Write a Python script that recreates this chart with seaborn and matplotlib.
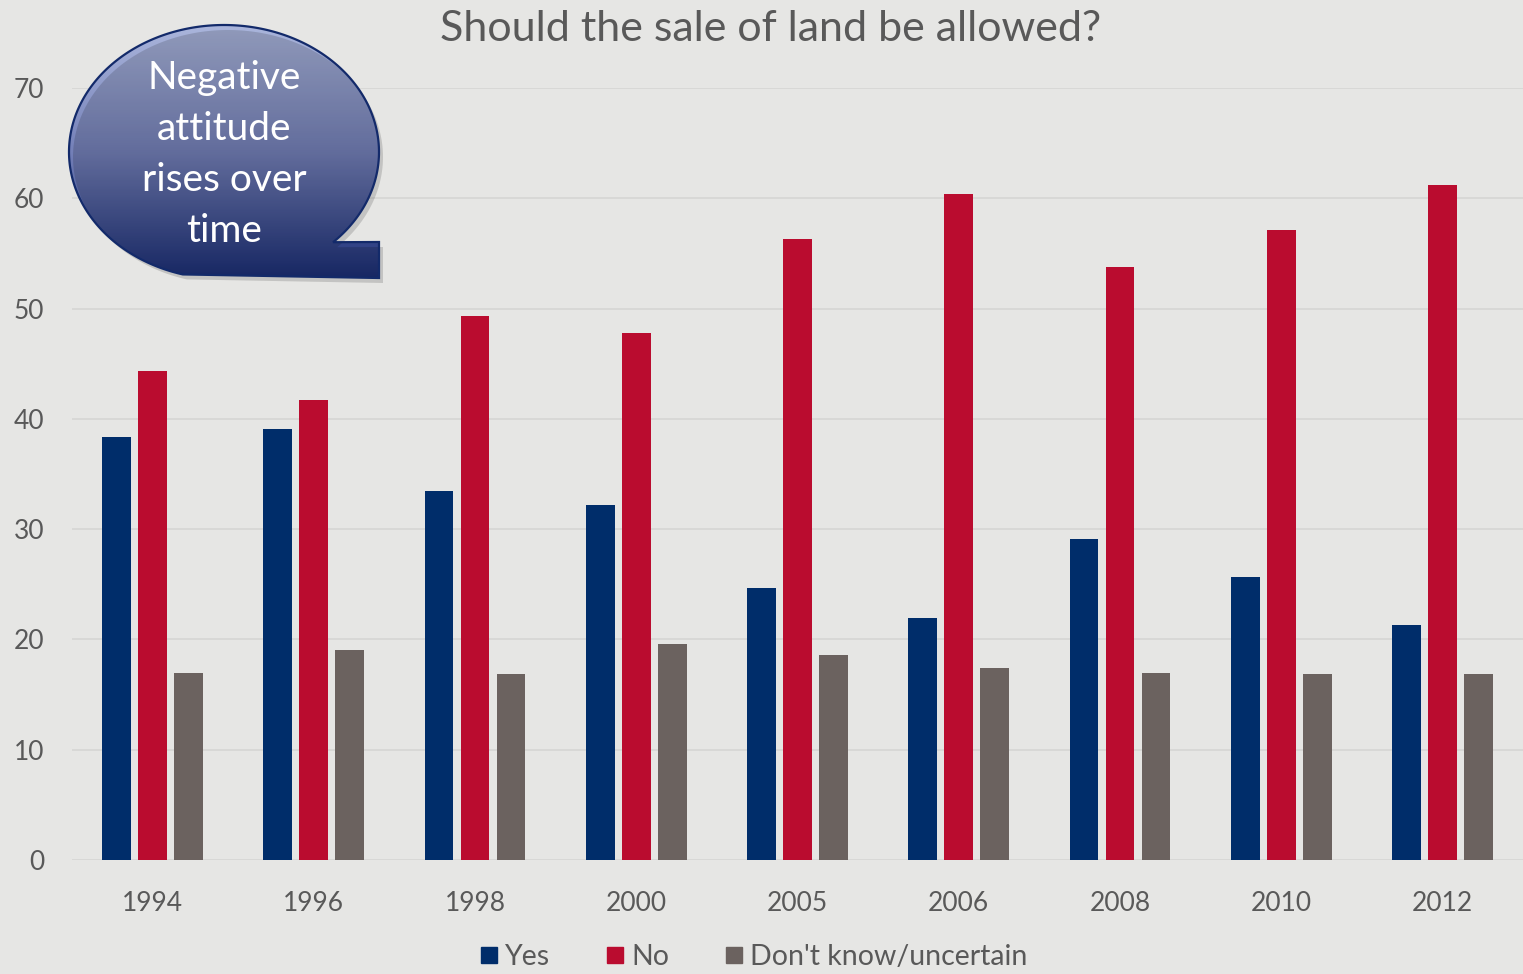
import numpy as np
import pandas as pd
import seaborn as sns
import matplotlib.pyplot as plt
from matplotlib.path import Path
from matplotlib.patches import PathPatch
from matplotlib.colors import LinearSegmentedColormap

# data
years = ['1994', '1996', '1998', '2000', '2005', '2006', '2008', '2010', '2012']
yes = [38.4, 39.1, 33.5, 32.2, 24.7, 21.9, 29.1, 25.7, 21.3]
no = [44.3, 41.7, 49.3, 47.8, 56.3, 60.4, 53.8, 57.1, 61.2]
dont_know = [17.0, 19.0, 16.9, 19.6, 18.6, 17.4, 17.0, 16.9, 16.9]
series = ['Yes', 'No', "Don't know/uncertain"]
colors = ['#002d6a', '#ba0c2f', '#6b625f']

df = pd.DataFrame({'year': years, 'Yes': yes, 'No': no, "Don't know/uncertain": dont_know})
long_df = df.melt(id_vars='year', var_name='answer', value_name='pct')

sns.set_style('whitegrid')
plt.rcParams['font.family'] = ['Lato', 'DejaVu Sans']
bg = '#e6e6e4'
txt = '#595959'

fig = plt.figure(figsize=(15.23, 9.74), dpi=100, facecolor=bg)
ax = fig.add_axes([72 / 1523, 114 / 974, 1 - 72 / 1523, (860 - 88) / 974])
ax.set_facecolor(bg)

sns.barplot(data=long_df, x='year', y='pct', hue='answer', hue_order=series,
            palette=colors, width=0.67, gap=0.2, saturation=1, linewidth=0, ax=ax)

ax.set_ylim(0, 70)
ax.set_xlim(-0.5, 8.5)
ax.set_yticks(range(0, 71, 10))
ax.grid(axis='y', color='#d6d6d4', linewidth=1.2)
ax.grid(axis='x', visible=False)
ax.set_axisbelow(True)
for s in ax.spines.values():
    s.set_visible(False)
ax.set_xlabel('')
ax.set_ylabel('')
ax.tick_params(axis='both', length=0, labelsize=19, labelcolor=txt)
ax.tick_params(axis='x', pad=22)
ax.tick_params(axis='y', pad=20)

ax.legend_.remove()
handles = [plt.Line2D([], [], marker='s', linestyle='', markersize=12, color=c) for c in colors]
fig.legend(handles, series, loc='center', bbox_to_anchor=(754 / 1523, 1 - 957 / 974),
           ncol=3, frameon=False, fontsize=20.5, labelcolor=txt, handlelength=0.6,
           handletextpad=0.25, columnspacing=2.0)

fig.text(771 / 1523, 1 - 29 / 974, 'Should the sale of land be allowed?',
         ha='center', va='center', fontsize=31, color=txt)

# callout bubble drawn in pixel coordinates
ov = fig.add_axes([0, 0, 1, 1])
ov.set_xlim(0, 1523)
ov.set_ylim(974, 0)
ov.axis('off')

cx, cy, a, b = 224, 152, 155, 127
t = np.linspace(0.79, 0.79 - 2 * np.pi + 1.05, 300)
pts = list(zip(cx + a * np.cos(t), cy + b * np.sin(t)))
pts += [(379, 278), (379, 242), pts[0]]
codes = [Path.MOVETO] + [Path.LINETO] * (len(pts) - 2) + [Path.CLOSEPOLY]

shadow = PathPatch(Path([(x + 4, y + 5) for x, y in pts], codes),
                   facecolor='#000000', alpha=0.15, edgecolor='none')
ov.add_patch(shadow)
bubble = PathPatch(Path(pts, codes), facecolor='none', edgecolor='#132a6a', linewidth=1.6)
ov.add_patch(bubble)
cmap = LinearSegmentedColormap.from_list('g', ['#abb6dc', '#7480b8', '#1a2d74'])
grad = np.linspace(0, 1, 256).reshape(-1, 1)
img = ov.imshow(grad, cmap=cmap, aspect='auto', extent=(66, 382, 280, 24), origin='upper')
img.set_clip_path(bubble)

for i, line in enumerate(['Negative', 'attitude', 'rises over', 'time']):
    ov.text(cx, 78 + i * 51, line, ha='center', va='center', fontsize=28, color='white')

fig.savefig('out.png', dpi=100, facecolor=bg)
